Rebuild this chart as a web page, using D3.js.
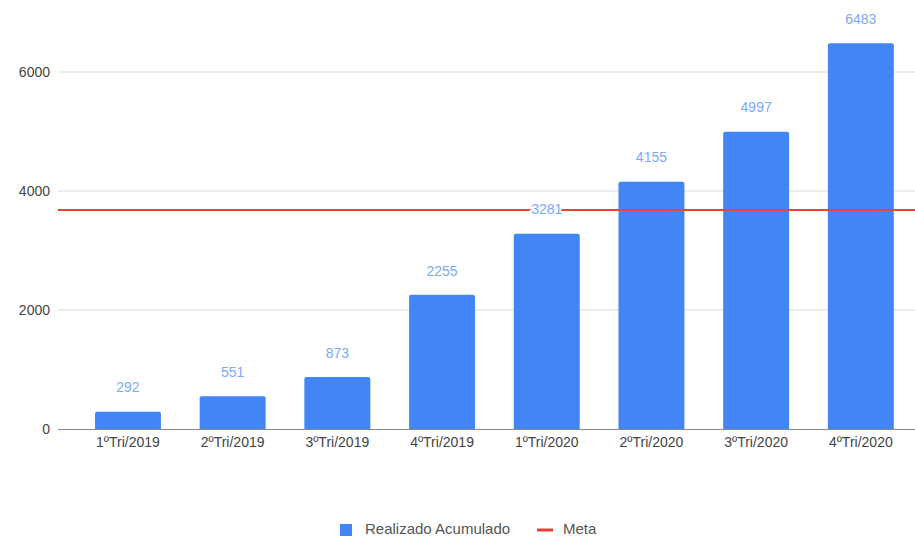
<!DOCTYPE html>
<html>
<head>
<meta charset="utf-8">
<script src="https://cdn.jsdelivr.net/npm/d3@7"></script>
<style>
  html, body { margin: 0; padding: 0; background: #fff; }
  svg { display: block; font-family: Arial, "Liberation Sans", sans-serif; }
</style>
</head>
<body>
<svg id="chart" width="915" height="536"></svg>
<script>
// Quarterly accumulated results and the target line
const categories = ["1ºTri/2019", "2ºTri/2019", "3ºTri/2019", "4ºTri/2019",
                    "1ºTri/2020", "2ºTri/2020", "3ºTri/2020", "4ºTri/2020"];
const realizado = [292, 551, 873, 2255, 3281, 4155, 4997, 6483];
const meta = 3680;
const yTicks = [0, 2000, 4000, 6000];
const seriesNames = ["Realizado Acumulado", "Meta"];

const FONT = "Arial, 'Liberation Sans', sans-serif";
const plot = { left: 58, right: 915, top: 20, bottom: 429 };
const band = { left: 75.6, right: 913.2 };

const svg = d3.select("#chart");

const y = d3.scaleLinear().domain([0, 6000]).range([plot.bottom, 72]);
const x = d3.scaleBand().domain(categories).range([band.left, band.right])
  .paddingInner(0.37).paddingOuter(0.185);

// gridlines
svg.append("g").selectAll("line").data(yTicks.filter(d => d > 0)).join("line")
  .attr("x1", plot.left).attr("x2", plot.right)
  .attr("y1", d => y(d)).attr("y2", d => y(d))
  .attr("stroke", "#dadada").attr("stroke-width", 1);

// y-axis labels
const yAxis = d3.axisLeft(y).tickValues(yTicks).tickSize(0).tickPadding(0).tickFormat(d3.format("d"));
const gy = svg.append("g").attr("transform", `translate(${plot.left - 8},0)`).call(yAxis);
gy.select(".domain").remove();
gy.selectAll("text").attr("font-size", 14).attr("fill", "#444").attr("font-family", FONT);

// bars with slightly rounded tops
const r = 2;
svg.append("g").selectAll("path").data(realizado).join("path")
  .attr("fill", "#4285f4")
  .attr("d", (d, i) => {
    const x0 = x(categories[i]), w = x.bandwidth(), y0 = y(d), yb = y(0);
    return `M${x0},${yb}V${y0 + r}Q${x0},${y0} ${x0 + r},${y0}H${x0 + w - r}Q${x0 + w},${y0} ${x0 + w},${y0 + r}V${yb}Z`;
  });

// baseline / x-axis
const xAxis = d3.axisBottom(x).tickSize(0).tickPadding(8);
const gx = svg.append("g").attr("transform", `translate(0,${plot.bottom})`).call(xAxis);
gx.select(".domain").remove();
gx.selectAll("text").attr("font-size", 14).attr("fill", "#444").attr("font-family", FONT);
svg.append("line")
  .attr("x1", plot.left).attr("x2", plot.right)
  .attr("y1", y(0) + 0.5).attr("y2", y(0) + 0.5)
  .attr("stroke", "#888").attr("stroke-width", 1);

// target line
svg.append("line")
  .attr("x1", plot.left).attr("x2", plot.right)
  .attr("y1", y(meta)).attr("y2", y(meta))
  .attr("stroke", "#ea4335").attr("stroke-width", 2);

// value labels
svg.append("g").selectAll("text").data(realizado).join("text")
  .attr("x", (d, i) => x(categories[i]) + x.bandwidth() / 2)
  .attr("y", d => y(d) - 23)
  .attr("text-anchor", "middle")
  .attr("dominant-baseline", "middle")
  .attr("font-size", 14)
  .attr("font-family", FONT)
  .attr("fill", "#7baaf7")
  .attr("stroke", "#fff").attr("stroke-width", 4).attr("paint-order", "stroke")
  .attr("stroke-linejoin", "round")
  .text(d => d);

// legend
const lg = svg.append("g").attr("transform", "translate(0,530)");
lg.append("rect").attr("x", 340).attr("y", -6).attr("width", 12).attr("height", 12).attr("fill", "#4285f4");
lg.append("text").attr("x", 365).attr("y", 0).attr("dominant-baseline", "middle")
  .attr("font-size", 15).attr("font-family", FONT).attr("fill", "#555").text(seriesNames[0]);
lg.append("rect").attr("x", 537).attr("y", -1.5).attr("width", 16).attr("height", 3).attr("fill", "#ea4335");
lg.append("text").attr("x", 563).attr("y", 0).attr("dominant-baseline", "middle")
  .attr("font-size", 15).attr("font-family", FONT).attr("fill", "#555").text(seriesNames[1]);
</script>
</body>
</html>
